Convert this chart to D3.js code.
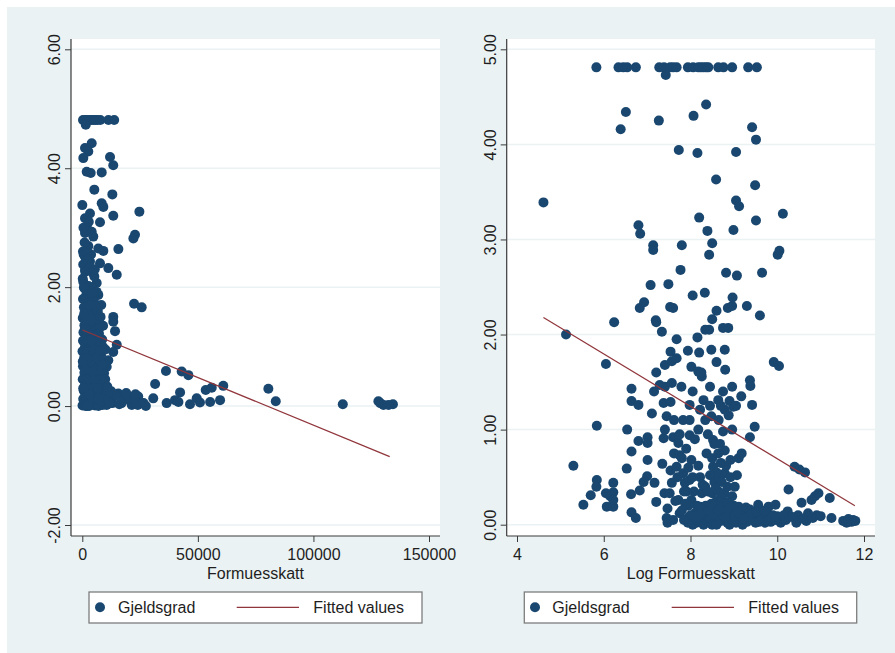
<!DOCTYPE html>
<html>
<head>
<meta charset="utf-8">
<script src="https://cdn.jsdelivr.net/npm/d3@7"></script>
<style>
  body { margin: 0; background: #fff; }
  text { font-family: "Liberation Sans", Arial, sans-serif; fill: #1e1e1e; }
</style>
</head>
<body>
<div id="container"></div>
<script>
// Gjeldsgrad vs Formuesskatt (left) and vs log Formuesskatt (right)

const leftPoints = [
  [300,4.81],[1200,4.81],[2100,4.81],[3000,4.81],[3900,4.81],[4800,4.81],[5700,4.81],[6600,4.81],[7800,4.81],[11300,4.81],[13800,4.81],[1500,4.73],
  [4070,4.42],[1170,4.34],[2600,4.28],[430,4.17],[12000,4.19],[13400,4.05],[1900,3.94],[3640,3.92],[8400,3.93],
  [5200,3.64],[13000,3.56],[0,3.38],[8400,3.41],[9100,3.35],[24700,3.27],[3330,3.24],[13400,3.20],[1170,3.16],
  [7660,3.09],[1900,3.02],[4070,2.93],[1170,2.91],[4760,2.85],[22800,2.88],[22100,2.82],[2600,2.69],[6930,2.65],
  [9100,2.61],[15600,2.64],[1170,2.51],[3330,2.43],[7660,2.40],[11260,2.32],[14900,2.21],[1170,2.29],[4760,2.23],
  [430,2.09],[6230,2.07],[1900,1.95],[6930,1.87],[1000,2.75],[3800,2.55],[500,3.0],[2800,3.1],[300,2.6],
  [22400,1.72],[25700,1.66],[13400,1.50],[13400,1.42],[14160,1.26],[14900,1.03],[13400,0.91],[11260,0.77],[10560,0.66],[9100,0.49],
  [36200,0.59],[43000,0.58],[45900,0.52],[31500,0.37],[30700,0.13],[36500,0.05],[40100,0.10],[42300,0.23],[41600,0.07],
  [46600,0.03],[49500,0.13],[50900,0.06],[53400,0.27],[56000,0.31],[61000,0.34],[55300,0.07],[59600,0.10],
  [19200,0.13],[24200,0.16],[25700,0.05],[15600,0.21],[21400,0.02],[17000,0.05],[12000,0.10],[10560,0.02],
  [80500,0.29],[83700,0.08],[112700,0.03],[128100,0.08],[130300,0.02],[134400,0.03],[128900,0.05],[132500,0.02],
  [600,2.55],[2200,2.47],[400,2.38],[3100,2.33],[1300,2.26],[5200,2.18],[200,2.14],[2700,2.02],[4100,2.0],[900,1.98],
  [6200,1.92],[1800,1.88],[3600,1.84],[300,1.8],[5000,1.77],[2400,1.72],[8200,1.7],[700,1.66],[4300,1.62],[1500,1.58],
  [6400,1.55],[3000,1.52],[200,1.48],[5500,1.45],[2000,1.42],[7300,1.4],[900,1.36],[4000,1.33],[2800,1.3],[6000,1.27],
  [500,1.24],[3500,1.2],[1700,1.17],[5200,1.14],[8600,1.12],[300,1.1],[2500,1.06],[4600,1.03],[1200,1.0],[6800,0.98],
  [3300,0.95],[100,0.92],[2000,0.9],[5600,0.87],[4000,0.84],[800,0.81],[7400,0.78],[2900,0.76],[1600,0.73],[5000,0.7],
  [300,0.67],[3700,0.64],[6200,0.62],[2300,0.59],[900,0.56],[8000,0.54],[4400,0.51],[1800,0.48],[200,0.45],[5800,0.43],
  [3100,0.4],[7000,0.38],[1100,0.35],[4800,0.32],[2600,0.3],[9500,0.28],[600,0.26],[6500,0.24],[3800,0.22],[1500,0.2],
  [8200,0.18],[2200,0.16],[5300,0.14],[400,0.12],[7600,0.1],[3300,0.09],[1000,0.07],[6000,0.06],[4500,0.04],[2000,0.03],
  [8800,0.02],[100,0.01],[5500,0.01],[3000,0.0],[7000,0.0],[9800,0.03],[1400,0.0],[10500,0.08],[11500,0.12],[13000,0.05],
  [14500,0.18],[16000,0.03],[18000,0.1],[20000,0.15],[22500,0.08],[24000,0.02],[26500,0.05],[27500,0.0],[19000,0.22],
  [23000,0.2],[12500,0.25],[9000,1.35],[10200,0.7],[9400,0.55],[8800,1.0],[6700,1.6],[4400,1.9],[2600,1.1],[5900,0.2],
  [3500,0.75],[1400,1.45],[7200,1.22],[9700,0.15],[11000,0.2],[4200,0.15],[2500,0.45],[6300,0.5],
  [7900,1.5],[8100,0.85],[9200,0.38],[7100,0.6],[8500,0.3],[6100,1.1],[8900,0.7],[7700,1.33],[5600,1.68],[3800,1.45],
  [1100,1.3],[400,0.3],[2200,0.8],[4900,0.95],[6800,0.3],[9900,0.45],[10800,0.33],[8300,0.08],[1700,1.95],[3200,1.7],
  [700,2.0],[5400,2.3],[2900,0.2],[4600,0.58],[6400,0.82],[800,1.55],[200,0.75],[3900,1.1],[7500,0.93],[10000,0.95],
  [2100,0.0],[5000,0.45],[9300,0.12],[11900,0.05],[1300,0.62],[6900,0.12]
];

const rightPoints = [
  [5.83,4.81],[6.34,4.81],[6.45,4.81],[6.54,4.81],[6.74,4.81],[7.28,4.81],[7.39,4.81],[7.53,4.81],[7.60,4.81],[7.68,4.81],
  [7.94,4.81],[8.06,4.81],[8.18,4.81],[8.24,4.81],[8.30,4.81],[8.36,4.81],[8.41,4.81],[8.64,4.81],[8.76,4.81],[8.96,4.81],
  [9.33,4.81],[9.53,4.81],[7.43,4.73],
  [6.51,4.34],[7.27,4.25],[6.39,4.16],[8.07,4.30],[8.36,4.42],[9.42,4.18],[9.51,4.05],[7.73,3.94],[8.16,3.91],[9.05,3.92],
  [8.59,3.63],[9.49,3.57],[4.61,3.39],[9.05,3.41],[9.12,3.35],[10.13,3.27],[8.20,3.23],[9.51,3.20],[6.80,3.15],[6.84,3.06],
  [8.39,3.09],[8.99,3.10],[7.14,2.94],[7.14,2.89],[7.80,2.94],[8.50,2.96],[8.43,2.84],[10.05,2.88],[10.01,2.84],[7.77,2.68],
  [8.82,2.65],[9.07,2.62],[9.65,2.65],[7.08,2.52],[7.49,2.53],[8.05,2.41],[8.33,2.44],[8.97,2.39],[6.83,2.28],[6.93,2.34],
  [7.53,2.29],[7.60,2.28],[8.86,2.28],[8.96,2.30],[9.30,2.30],[8.60,2.25],[7.20,2.15],[7.21,2.13],[8.50,2.16],[9.60,2.20],
  [6.24,2.13],[8.87,2.07],[8.43,2.05],[7.34,2.03],
  [5.13,2.00],[6.05,1.69],[5.84,1.04],[5.30,0.62],[5.53,0.21],[5.70,0.31],[5.84,0.47],[5.83,0.40],[6.05,0.33],[6.07,0.19],
  [6.22,0.19],[6.22,0.44],[6.22,0.34],[6.15,0.30],[6.22,0.26],[6.54,1.00],[6.53,0.59],[6.64,0.77],[6.64,1.43],[6.64,1.30],
  [6.80,1.26],[6.63,0.32],[6.64,0.13],[6.74,0.07],[6.80,0.88],[7.01,0.92],[7.01,0.86],[7.01,0.68],[7.11,1.17],[7.00,0.51],
  [6.92,0.45],[6.83,0.36],[7.17,0.44],[7.21,0.24],[7.21,1.60],[7.16,1.40],[7.29,1.47],[7.35,0.64],[7.38,0.91],[7.41,1.00],
  [7.38,1.28],[7.41,1.45],[7.41,1.68],[7.45,1.14],[7.40,0.33],[7.47,0.17],[7.45,0.07],[7.47,0.02],[7.54,1.82],[7.57,1.72],
  [7.57,1.49],[7.54,1.29],[7.62,1.10],[7.60,0.92],[7.62,0.75],[7.54,0.57],[7.57,0.44],[7.52,0.33],[7.68,1.95],[7.68,1.75],
  [7.72,0.86],[7.68,0.61],[7.72,0.26],[7.75,0.12],[7.79,1.45],[7.83,1.10],[7.75,0.73],[7.83,0.54],[7.87,0.44],[7.91,0.35],
  [7.94,0.07],[7.94,0.02],[7.94,1.83],[8.02,1.66],[7.98,1.26],[7.98,1.10],[7.98,0.94],[8.02,0.68],[7.98,0.47],[8.02,0.26],
  [8.10,0.12],[8.14,0.02],[8.16,1.97],[8.20,1.81],[8.18,1.61],[8.26,1.56],[8.18,1.00],[8.22,1.21],[8.22,0.50],[8.26,0.33],
  [8.22,0.19],[8.30,0.05],[8.34,2.05],[8.30,1.31],[8.34,1.10],[8.37,0.75],[8.34,0.40],[8.37,0.12],[8.41,0.02],[8.48,1.84],
  [8.45,1.45],[8.48,1.14],[8.52,0.89],[8.52,0.61],[8.50,0.33],[8.56,0.19],[8.60,1.71],[8.64,1.31],[8.64,0.75],[8.64,0.50],
  [8.64,0.05],[8.75,2.07],[8.79,1.84],[8.80,1.63],[8.75,1.40],[8.79,1.21],[8.75,0.98],[8.79,0.78],[8.79,0.54],[8.78,0.33],
  [8.81,0.19],[8.85,0.02],[8.96,1.45],[8.99,1.24],[8.96,1.00],[8.92,0.68],[8.96,0.30],[9.00,0.12],[9.07,0.52],[9.11,0.70],
  [9.18,0.75],[9.17,1.35],[9.11,0.19],[9.14,0.05],[9.25,0.09],[9.37,1.52],[9.38,1.46],[9.42,1.26],[9.48,1.03],[9.37,0.92],
  [9.37,0.16],[9.45,0.05],[9.56,0.21],[9.60,0.09],[9.72,0.02],[9.76,0.12],[9.80,0.19],[9.92,1.71],[10.04,1.67],[9.96,0.21],
  [10.00,0.09],[10.08,0.02],[10.26,0.37],[10.24,0.14],[10.40,0.61],[10.51,0.58],[10.64,0.55],[10.44,0.02],[10.48,0.10],
  [10.56,0.23],[10.67,0.04],[10.71,0.12],[10.79,0.26],[10.87,0.30],[10.95,0.33],[10.91,0.10],[11.21,0.28],[11.25,0.07],
  [11.52,0.04],[11.64,0.06],[11.71,0.03],[11.75,0.05],
  [8.05,0.0],[8.20,0.03],[8.30,0.0],[8.45,0.06],[8.50,0.0],[8.55,0.10],[8.60,0.0],[8.70,0.04],[8.75,0.10],[8.90,0.0],
  [8.95,0.07],[9.05,0.02],[9.20,0.0],[9.30,0.03],[9.35,0.08],[9.50,0.02],[9.65,0.06],[9.85,0.03],[9.90,0.10],[8.35,0.20],
  [8.60,0.25],[8.70,0.20],[8.85,0.15],[9.00,0.20],[9.15,0.15],[8.15,0.20],[7.95,0.20],[8.40,0.35],[8.55,0.45],[8.65,0.35],
  [8.70,0.65],[8.60,0.55],[8.50,0.70],[7.85,0.35],[7.80,0.70],[7.90,0.80],[7.95,0.60],[8.05,0.50],[7.70,0.50],[7.75,0.95],
  [8.10,0.90],[8.55,0.85],[8.65,1.10],[8.70,1.25],[8.90,1.30],[8.45,1.25],[9.05,1.25],[8.25,1.60],
  [8.00,0.10],[8.12,0.07],[8.25,0.12],[8.40,0.15],[8.48,0.22],[8.65,0.15],[8.72,0.28],[8.82,0.08],[8.88,0.24],[9.02,0.09],
  [9.08,0.13],[9.22,0.06],[9.28,0.18],[9.42,0.12],[9.52,0.14],[9.58,0.03],[9.70,0.15],[9.78,0.04],[9.95,0.05],[10.15,0.10],
  [10.20,0.05],[10.35,0.08],[10.60,0.06],[10.82,0.07],[11.00,0.09],[8.28,0.42],[8.45,0.52],[8.58,0.38],[8.72,0.45],[8.85,0.40],
  [7.88,0.22],[7.80,0.15],[8.08,0.35],[8.18,0.62],[8.68,0.85],[8.82,0.62],[9.02,0.40],[7.65,0.25],[7.60,0.05],[7.85,0.05],
  [11.80,0.04],[11.60,0.02],[8.92,0.50],[8.40,0.95],[8.88,1.15],[8.05,1.40]
];

// fitted line end points (linear fit, as drawn)
const leftFitX = [100, 133000];
const leftFitY = [1.28, -0.85];
const rightFitX = [4.61, 11.79];
const rightFitY = [2.18, 0.20];

const leftXTicks = [0, 50000, 100000, 150000];
const leftYTicks = [-2, 0, 2, 4, 6];
const rightXTicks = [4, 6, 8, 10, 12];
const rightYTicks = [0, 1, 2, 3, 4, 5];

const legendLabels = ["Gjeldsgrad", "Fitted values"];

const markerColor = "#1a476f";
const fitColor = "#90353b";
const bgColor = "#eaf2f3";
const axisColor = "#3a3a3a";

const plotTop = 39, plotBottom = 536;

const panels = [
  { points: leftPoints, fitX: leftFitX, fitY: leftFitY, xTicks: leftXTicks, yTicks: leftYTicks,
    xDomain: [0, 150000], xRange: [82.3, 429], yDomain: [-2, 6], yRange: [525, 49.3],
    plot: [71, 440], title: "Formuesskatt", yLabelOffset: -11.5,
    legend: { x: 89, w: 333, marker: 100, text1: 118, line: [236.7, 299], text2: 313.3 } },
  { points: rightPoints, fitX: rightFitX, fitY: rightFitY, xTicks: rightXTicks, yTicks: rightYTicks,
    xDomain: [4, 12], xRange: [517, 864], yDomain: [0, 5], yRange: [524.7, 49.3],
    plot: [506.7, 875], title: "Log Formuesskatt", yLabelOffset: -10.5,
    legend: { x: 524.3, w: 332.4, marker: 535, text1: 552.3, line: [671.7, 734], text2: 748.3 } }
];

const drawPanel = (svg, p) => {
  const g = svg.append("g");
  const x = d3.scaleLinear().domain(p.xDomain).range(p.xRange);
  const y = d3.scaleLinear().domain(p.yDomain).range(p.yRange);

  g.append("rect")
    .attr("x", p.plot[0]).attr("y", plotTop)
    .attr("width", p.plot[1] - p.plot[0]).attr("height", plotBottom - plotTop)
    .attr("fill", "#fff");

  // grid lines
  g.selectAll(".grid").data(p.yTicks).join("line")
    .attr("class", "grid")
    .attr("x1", p.plot[0]).attr("x2", p.plot[1])
    .attr("y1", d => y(d)).attr("y2", d => y(d))
    .attr("stroke", bgColor).attr("stroke-width", 1.5);

  // points
  g.selectAll(".dot").data(p.points).join("circle")
    .attr("class", "dot")
    .attr("cx", d => x(d[0])).attr("cy", d => y(d[1]))
    .attr("r", 5)
    .attr("fill", markerColor);

  // fitted values
  const line = d3.line().x(d => x(d[0])).y(d => y(d[1]));
  g.append("path")
    .attr("d", line(p.fitX.map((v, i) => [v, p.fitY[i]])))
    .attr("fill", "none").attr("stroke", fitColor).attr("stroke-width", 1.2);

  // axes
  const yAxis = d3.axisLeft(y).tickValues(p.yTicks).tickFormat(d => d.toFixed(2)).tickSize(6);
  const ya = g.append("g").attr("transform", `translate(${p.plot[0]},0)`).call(yAxis);
  ya.select(".domain").remove();
  ya.selectAll(".tick line").attr("stroke", axisColor);
  ya.selectAll(".tick text")
    .attr("x", null).attr("dy", null)
    .attr("transform", `translate(${p.yLabelOffset},0) rotate(-90)`)
    .attr("text-anchor", "middle")
    .style("font-size", "16px");

  const xAxis = d3.axisBottom(x).tickValues(p.xTicks).tickFormat(d3.format("d")).tickSize(6);
  const xa = g.append("g").attr("transform", `translate(0,${plotBottom})`).call(xAxis);
  xa.select(".domain").remove();
  xa.selectAll(".tick line").attr("stroke", axisColor);
  xa.selectAll(".tick text").attr("y", 24).attr("dy", null).style("font-size", "16px");

  g.append("line").attr("x1", p.plot[0]).attr("x2", p.plot[0])
    .attr("y1", plotTop).attr("y2", plotBottom).attr("stroke", axisColor).attr("stroke-width", 1.2);
  g.append("line").attr("x1", p.plot[0]).attr("x2", p.plot[1])
    .attr("y1", plotBottom).attr("y2", plotBottom).attr("stroke", axisColor).attr("stroke-width", 1.2);

  g.append("text")
    .attr("x", (p.plot[0] + p.plot[1]) / 2).attr("y", 579)
    .attr("text-anchor", "middle").style("font-size", "16px")
    .text(p.title);

  // legend
  const L = p.legend;
  const lg = g.append("g");
  lg.append("rect").attr("x", L.x).attr("y", 592).attr("width", L.w).attr("height", 31)
    .attr("fill", "#fff").attr("stroke", "#7d7d7d").attr("stroke-width", 1.3);
  lg.append("circle").attr("cx", L.marker).attr("cy", 607.3).attr("r", 5).attr("fill", markerColor);
  lg.append("text").attr("x", L.text1).attr("y", 613.3).style("font-size", "16px").text(legendLabels[0]);
  lg.append("line").attr("x1", L.line[0]).attr("x2", L.line[1]).attr("y1", 607.3).attr("y2", 607.3)
    .attr("stroke", fitColor).attr("stroke-width", 1.2);
  lg.append("text").attr("x", L.text2).attr("y", 613.3).style("font-size", "16px").text(legendLabels[1]);
};

const svg = d3.select("#container").append("svg").attr("width", 895).attr("height", 653);
svg.append("rect").attr("x", 7).attr("y", 7).attr("width", 888).attr("height", 646).attr("fill", bgColor);
panels.forEach(p => drawPanel(svg, p));
</script>
</body>
</html>
